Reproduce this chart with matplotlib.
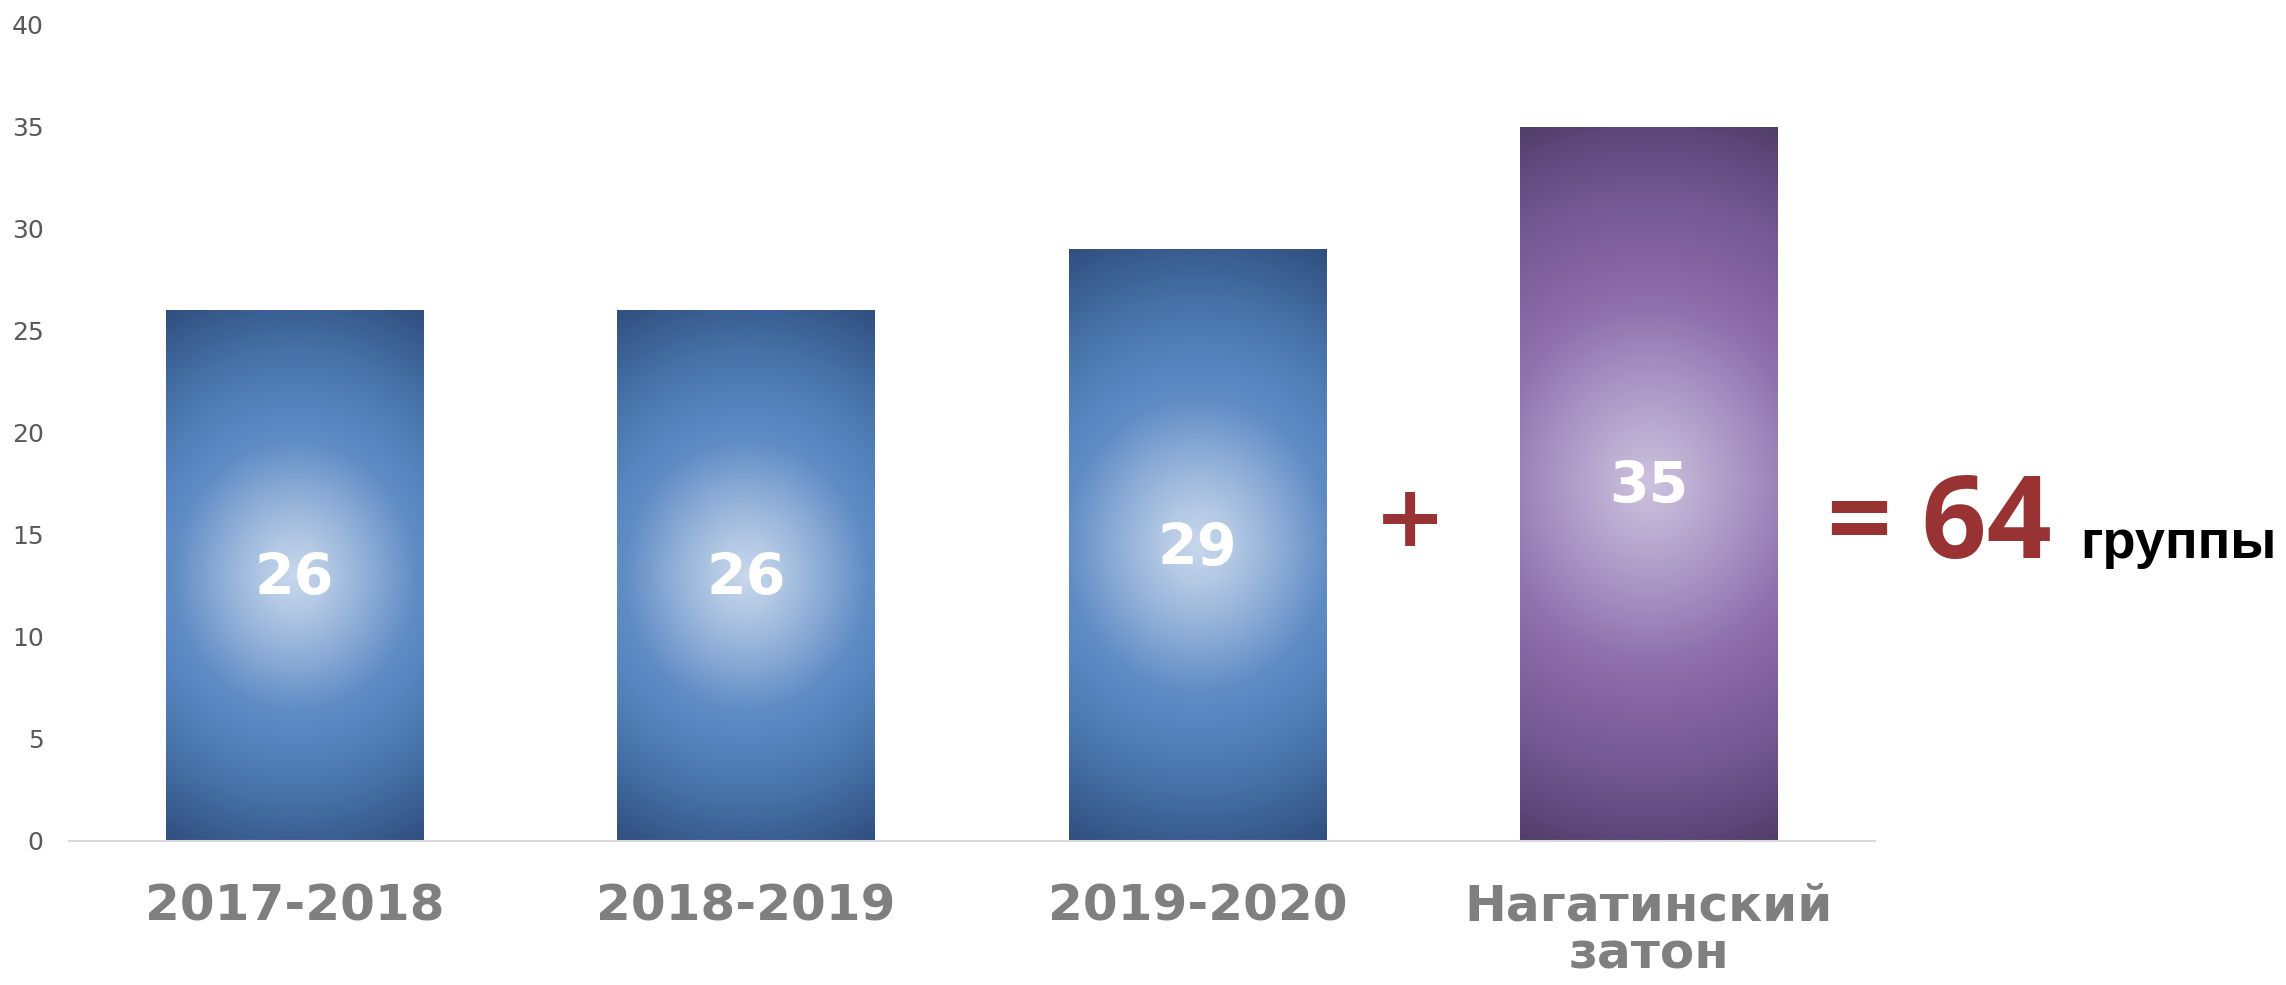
import numpy as np
import matplotlib
matplotlib.use("Agg")
import matplotlib.pyplot as plt
from matplotlib.colors import to_rgb

categories = ['2017-2018', '2018-2019', '2019-2020', 'Нагатинский\nзатон']
values = [26, 26, 29, 35]
bar_styles = ['blue', 'blue', 'blue', 'purple']
y_ticks = [0, 5, 10, 15, 20, 25, 30, 35, 40]
total_value = 64
total_unit = 'группы'

gradients = {
    'blue': [(0.0, '#C9D8EC'), (0.12, '#B2C8E4'), (0.28, '#8CACD6'), (0.45, '#5F8CC5'),
             (0.55, '#5685BF'), (0.75, '#4571A6'), (0.92, '#37598B'), (1.0, '#2E4F7E')],
    'purple': [(0.0, '#CDC2DE'), (0.12, '#BDAFD3'), (0.28, '#A893C4'), (0.45, '#9073AE'),
               (0.55, '#8767A5'), (0.75, '#735892'), (0.92, '#5D4679'), (1.0, '#513C66')],
}

W, H, DPI = 22.86, 9.85, 100
fig = plt.figure(figsize=(W, H), dpi=DPI)
ax = fig.add_axes([0.0300, 0.1464, 0.790, 0.8286])
ax.set_xlim(-0.5, 3.5)
ax.set_ylim(0, 40)

x = np.arange(len(values))
bw = 0.57
bars = ax.bar(x, values, width=bw, color='none', edgecolor='none', zorder=2)

px_per_x = 0.790 * W * DPI / 4.0
px_per_y = 0.8286 * H * DPI / 40.0


def grad_image(style, wpx, hpx, n=300):
    ny = int(n * hpx / wpx)
    xs = np.linspace(-wpx / 2, wpx / 2, n)
    ys = np.linspace(-hpx / 2, hpx / 2, ny)
    X, Y = np.meshgrid(xs, ys)
    d = np.sqrt(X ** 2 + (Y * 0.9) ** 2)
    dmax = np.sqrt((wpx / 2) ** 2 + (hpx / 2 * 0.9) ** 2)
    t = np.clip(d / dmax, 0, 1)
    stops = gradients[style]
    pos = [s[0] for s in stops]
    cols = np.array([to_rgb(s[1]) for s in stops])
    img = np.zeros(t.shape + (3,))
    for c in range(3):
        img[..., c] = np.interp(t, pos, cols[:, c])
    return img


for xi, v, st, patch in zip(x, values, bar_styles, bars):
    wpx = bw * px_per_x
    hpx = v * px_per_y
    img = grad_image(st, wpx, hpx)
    im = ax.imshow(img, extent=(xi - bw / 2, xi + bw / 2, 0, v), origin='lower',
                   aspect='auto', zorder=2, interpolation='bilinear')
    im.set_clip_path(patch)
    ax.text(xi, v / 2 - 0.2, str(v), ha='center', va='center', color='white',
            fontsize=41, fontweight='bold', zorder=3)

ax.set_xlim(-0.5, 3.5)
ax.set_ylim(0, 40)

ax.set_xticks(x)
ax.set_xticklabels(categories, fontsize=36, fontweight='bold', color='#7F7F7F',
                   linespacing=1.0)
ax.set_yticks(y_ticks)
ax.set_yticklabels([str(t) for t in y_ticks], fontsize=18, color='#595959')
ax.tick_params(axis='x', length=0, pad=30)
ax.tick_params(axis='y', length=0, pad=18)

for s in ['left', 'right', 'top']:
    ax.spines[s].set_visible(False)
ax.spines['bottom'].set_color('#D9D9D9')
ax.spines['bottom'].set_linewidth(1.5)

# plus sign between bars
ax.text(2.47, 15.6, '+', ha='center', va='center', color='#993333',
        fontsize=62, fontweight='bold', zorder=3)

# total annotation
fig.text(0.799, 0.4335, '= ' + str(total_value), ha='left', va='baseline',
         color='#993333', fontsize=82, fontweight='bold', family=['Open Sans', 'DejaVu Sans'])
fig.text(0.910, 0.4335, total_unit, ha='left', va='baseline', color='black',
         fontsize=39, fontweight='bold', family=['Liberation Sans', 'DejaVu Sans'])

fig.savefig('out.png', dpi=DPI, facecolor='white')
